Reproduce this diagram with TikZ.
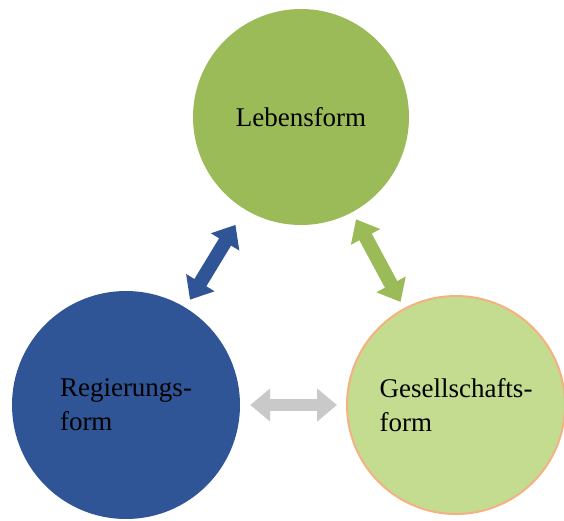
\documentclass[tikz,border=0pt]{standalone}
\usepackage{fontspec}
\setmainfont{Liberation Serif}
\usepackage{tikz}
\usetikzlibrary{arrows.meta}
\definecolor{lebgreen}{HTML}{9BBB59}
\definecolor{gesgreen}{HTML}{C3DC8F}
\definecolor{gesedge}{HTML}{F4B183}
\definecolor{regblue}{HTML}{2F5597}
\definecolor{arrgray}{HTML}{C9C9C9}
\tikzstyle{form} = [circle, inner sep=0pt, align=left,
font=\fontsize{27}{34}\selectfont]
\tikzstyle{dblarrow} = [line width=14pt,
{Triangle[length=20pt,width=32pt]}-{Triangle[length=20pt,width=32pt]}]

\begin{document}
\begin{tikzpicture}[x=1pt,y=-1pt]
            \useasboundingbox (0,0) rectangle (564,520);

            \node (leb) [form, fill=lebgreen, minimum size=216pt] at (301,117) {Lebensform};
            \node (reg) [form, fill=regblue, minimum size=228pt] at (126,405) {Regierungs-\\form};
            \node (ges) [form, fill=gesgreen, draw=gesedge, line width=2pt, minimum size=218pt] at (456,405) {Gesellschafts-\\form};

            \draw [dblarrow, draw=regblue, fill=regblue, shorten <=18pt, shorten >=9pt] (leb) -- (reg);
            \draw [dblarrow, draw=lebgreen, fill=lebgreen, shorten <=8pt, shorten >=7pt] (leb) -- (ges);
            \draw [dblarrow, line width=12pt, draw=arrgray, fill=arrgray, shorten <=10pt, shorten >=9pt] (reg) -- (ges);

        \end{tikzpicture}
\end{document}
